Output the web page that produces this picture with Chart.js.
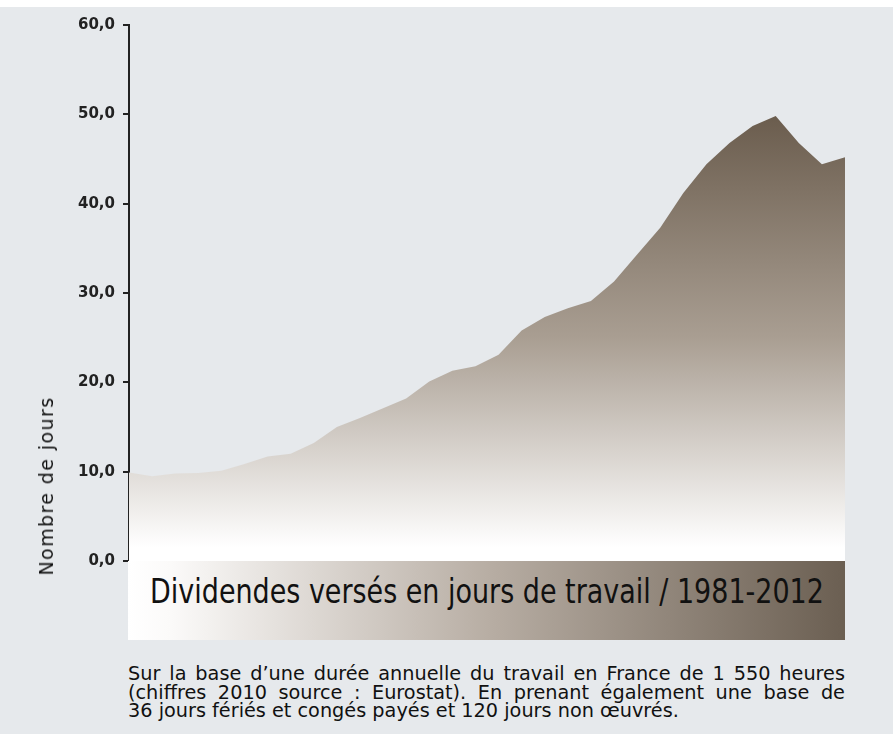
<!DOCTYPE html>
<html>
<head>
<meta charset="utf-8">
<script src="https://cdn.jsdelivr.net/npm/chart.js@4.4.1/dist/chart.umd.min.js"></script>
<style>
  body { margin: 0; background: #fff; }
  #panel { position: absolute; left: 0; top: 7px; width: 893px; height: 727px; background: #e6e9ec; }
  #chart { position: absolute; left: 0; top: 0; }
  #ytitle {
    position: absolute; left: 46px; top: 486px;
    transform: translate(-50%, -50%) rotate(-90deg);
    font-family: "DejaVu Sans", sans-serif; font-size: 19px; letter-spacing: 1.4px;
    color: #111; white-space: nowrap;
  }
  #banner {
    position: absolute; left: 128px; top: 561px; width: 717px; height: 79px;
    background: linear-gradient(to right, #ffffff 0%, #fbfaf9 6%, #b8aea4 50%, #6b5f52 100%);
    font-family: "DejaVu Sans", sans-serif; font-size: 33px; color: #111;
  }
  #banner span {
    position: absolute; left: 50%; top: 0; line-height: 61px; white-space: nowrap;
    transform-origin: 50% 50%;
  }
  #note {
    position: absolute; left: 128px; top: 664px;
    font-family: "DejaVu Sans", sans-serif; font-size: 20px; line-height: 18.5px; color: #111;
    transform-origin: 0 0;
  }
  #note div { text-align: justify; text-align-last: justify; white-space: nowrap; }
  #note div.last { text-align-last: left; }
</style>
</head>
<body>
<div id="panel"></div>
<canvas id="chart" width="893" height="571"></canvas>
<div id="ytitle">Nombre de jours</div>
<div id="banner"><span id="btext">Dividendes versés en jours de travail / 1981-2012</span></div>
<div id="note">
  <div>Sur la base d’une durée annuelle du travail en France de 1 550 heures</div>
  <div>(chiffres 2010 source : Eurostat). En prenant également une base de</div>
  <div class="last"><span id="lastline">36 jours fériés et congés payés et 120 jours non œuvrés.</span></div>
</div>
<script>
const years = ["1981", "1982", "1983", "1984", "1985", "1986", "1987", "1988",
  "1989", "1990", "1991", "1992", "1993", "1994", "1995", "1996",
  "1997", "1998", "1999", "2000", "2001", "2002", "2003", "2004",
  "2005", "2006", "2007", "2008", "2009", "2010", "2011", "2012"];

const jours = [9.9, 9.5, 9.8, 9.85, 10.1, 10.85, 11.7, 12.0,
  13.2, 15.0, 16.0, 17.1, 18.2, 20.1, 21.3, 21.8,
  23.1, 25.8, 27.3, 28.3, 29.1, 31.3, 34.3, 37.3,
  41.2, 44.4, 46.8, 48.7, 49.8, 46.8, 44.4, 45.2];

const yTicks = [0, 10, 20, 30, 40, 50, 60];

// the original uses a condensed face, squeeze the text to the same widths
const btext = document.getElementById("btext");
btext.style.transform = "translateX(-50%) scaleX(" + (674 / btext.offsetWidth) + ")";
const note = document.getElementById("note");
const k = 551 / document.getElementById("lastline").offsetWidth;
note.style.width = (717 / k) + "px";
note.style.transform = "scaleX(" + k + ")";

function areaFill(ctx) {
  const chart = ctx.chart;
  if (!chart.chartArea) return "#a99e92";
  const y = chart.scales.y;
  const g = chart.ctx.createLinearGradient(0, y.getPixelForValue(50), 0, y.getPixelForValue(0));
  g.addColorStop(0, "#6a5c4d");
  g.addColorStop(0.5, "#a99e92");
  g.addColorStop(0.97, "#ffffff");
  g.addColorStop(1, "#ffffff");
  return g;
}

new Chart(document.getElementById("chart"), {
  type: "line",
  data: {
    labels: years,
    datasets: [{
      label: "Nombre de jours",
      data: jours,
      fill: "origin",
      backgroundColor: areaFill,
      borderWidth: 0,
      pointRadius: 0,
      tension: 0,
    }],
  },
  options: {
    responsive: false,
    animation: false,
    layout: { padding: { left: 0, right: 48, top: 25, bottom: 10 } },
    plugins: { legend: { display: false }, tooltip: { enabled: false } },
    scales: {
      x: { display: false },
      y: {
        min: 0,
        max: 60,
        afterFit: (s) => {
          s.width = 129;
          s.paddingTop = 0;
          s.paddingBottom = 0;
        },
        afterBuildTicks: (s) => { s.ticks = yTicks.map((v) => ({ value: v })); },
        grid: { drawOnChartArea: false, drawTicks: true, tickLength: 6, color: "#222", lineWidth: 2 },
        border: { display: true, color: "#222", width: 2 },
        ticks: {
          padding: 8,
          color: "#222",
          font: { family: "DejaVu Sans", weight: "bold", size: 15 },
          callback: (v) => v.toFixed(1).replace(".", ","),
        },
      },
    },
  },
});
</script>
</body>
</html>
